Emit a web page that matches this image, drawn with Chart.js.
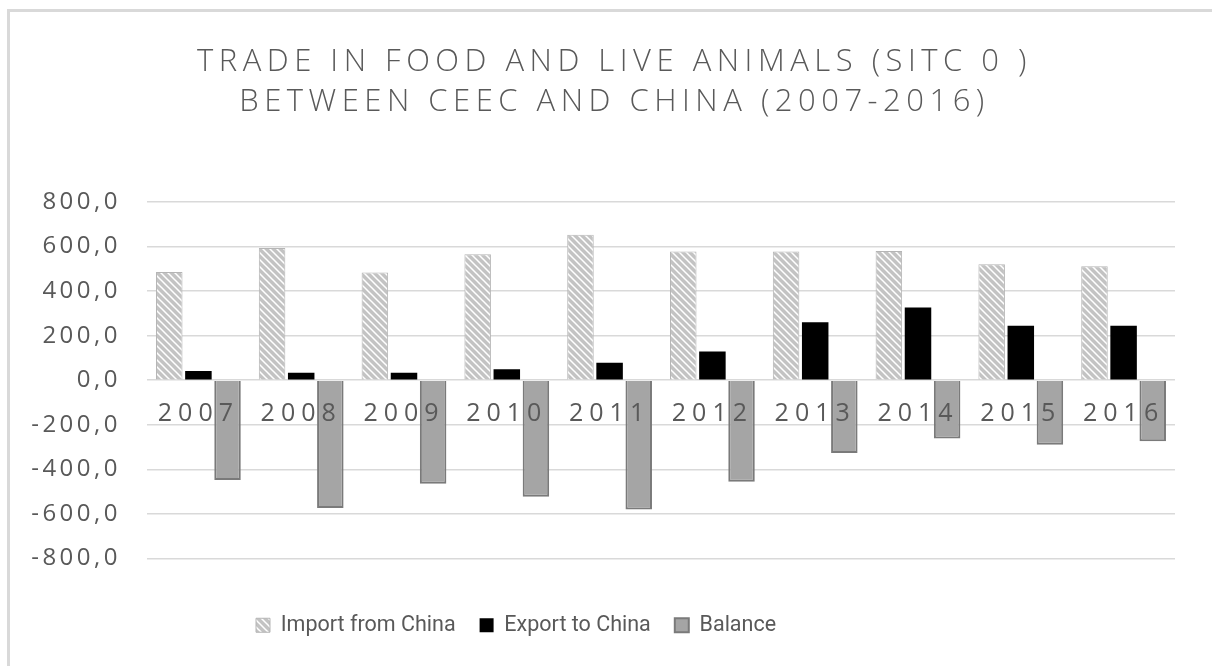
<!DOCTYPE html>
<html>
<head>
<meta charset="utf-8">
<script src="https://cdn.jsdelivr.net/npm/chart.js@4"></script>
<style>
  html, body { margin: 0; padding: 0; background: #ffffff; }
  #wrap { position: relative; width: 1212px; height: 666px; }
  #frame { position: absolute; left: 7px; top: 9px; right: -5px; bottom: -5px;
           border-left: 3px solid #d9d9d9; border-top: 3px solid #d9d9d9; pointer-events: none; }
</style>
</head>
<body>
<div id="wrap">
  <canvas id="tradeChart" width="1212" height="666"></canvas>
  <div id="frame"></div>
</div>
<script>
// Years on the category axis
const years = ['2007', '2008', '2009', '2010', '2011', '2012', '2013', '2014', '2015', '2016'];

// Values
const importFromChina = [486, 593, 484, 565, 653, 578, 578, 580, 521, 512];
const exportToChina = [42, 34, 34, 49, 79, 129, 260, 326, 245, 245];
const balance = [-448, -573, -465, -523, -580, -456, -326, -262, -290, -274];

// Title lines
const titleLines = ['TRADE IN FOOD AND LIVE ANIMALS (SITC 0 )', 'BETWEEN CEEC AND CHINA (2007-2016)'];

const textGrey = '#595959';

// Light grey fill with white "\" stripes for the import bars
function makeHatch() {
  const c = document.createElement('canvas');
  c.width = 7;
  c.height = 7;
  const g = c.getContext('2d');
  g.fillStyle = '#c3c3c3';
  g.fillRect(0, 0, 7, 7);
  g.strokeStyle = '#ffffff';
  g.lineWidth = 1.5;
  g.beginPath();
  g.moveTo(0, 0); g.lineTo(7, 7);
  g.moveTo(-3.5, 3.5); g.lineTo(3.5, 10.5);
  g.moveTo(3.5, -3.5); g.lineTo(10.5, 3.5);
  g.stroke();
  return g.createPattern(c, 'repeat');
}

// Wrap a draw method so that its text gets letter spacing
function spaced(obj, fn, sp) {
  if (!obj || obj['_sp_' + fn]) return;
  const orig = obj[fn];
  obj[fn] = function (...args) {
    const ctx = this.ctx;
    const old = ctx.letterSpacing;
    ctx.letterSpacing = sp;
    orig.apply(this, args);
    ctx.letterSpacing = old;
  };
  obj['_sp_' + fn] = true;
}

const tweaksPlugin = {
  id: 'tweaks',
  afterUpdate(chart) {
    spaced(chart.scales.x, 'drawLabels', '6px');
    spaced(chart.scales.y, 'drawLabels', '3.5px');
    spaced(chart.titleBlock, 'draw', '5.5px');
  },
  beforeDraw(chart) {
    // the legend sits left of centre and the title a little right of it
    if (chart.legend) chart.legend.left = 232;
    if (chart.titleBlock) chart.titleBlock.left = 54;
  }
};

const ctx = document.getElementById('tradeChart').getContext('2d');
new Chart(ctx, {
  type: 'bar',
  data: {
    labels: years,
    datasets: [
      {
        label: 'Import from China',
        data: importFromChina,
        backgroundColor: makeHatch(),
        borderColor: '#b5b5b5',
        borderWidth: 1
      },
      {
        label: 'Export to China',
        data: exportToChina,
        backgroundColor: '#000000',
        borderColor: '#000000',
        borderWidth: 0
      },
      {
        label: 'Balance',
        data: balance,
        backgroundColor: '#a5a5a5',
        borderColor: '#7a7a7a',
        borderWidth: 2
      }
    ]
  },
  options: {
    responsive: false,
    animation: false,
    layout: { padding: { left: 0, right: 37, top: 0, bottom: 20 } },
    datasets: {
      bar: { categoryPercentage: 0.85, barPercentage: 0.91 }
    },
    plugins: {
      title: {
        display: true,
        text: titleLines,
        color: textGrey,
        font: { family: 'Open Sans', size: 31, weight: '300', lineHeight: 1.29 },
        padding: { top: 42, bottom: 80 }
      },
      legend: {
        position: 'bottom',
        align: 'start',
        labels: {
          color: textGrey,
          font: { family: 'Roboto', size: 21.5 },
          boxWidth: 14,
          boxHeight: 14,
          padding: 24
        }
      },
      tooltip: { enabled: false }
    },
    scales: {
      x: {
        position: { y: 0 },
        grid: { display: false, drawTicks: false },
        border: { display: false },
        ticks: {
          z: 1,
          color: textGrey,
          font: { family: 'Open Sans', size: 25 },
          padding: 19,
          autoSkip: false,
          maxRotation: 0
        }
      },
      // empty axis that only keeps room between the plot and the legend
      gap: {
        type: 'category',
        position: 'bottom',
        grid: { display: false, drawTicks: false },
        border: { display: false },
        ticks: { display: false },
        afterFit(scale) { scale.height = 32; }
      },
      y: {
        min: -800,
        max: 800,
        grid: { color: '#d9d9d9', lineWidth: 1.5, drawTicks: false },
        border: { display: false },
        ticks: {
          stepSize: 200,
          color: textGrey,
          font: { family: 'Open Sans', size: 24 },
          padding: 26,
          callback: v => v.toFixed(1).replace('.', ',')
        },
        afterFit(scale) { scale.width = 147; }
      }
    }
  },
  plugins: [tweaksPlugin]
});
</script>
</body>
</html>
